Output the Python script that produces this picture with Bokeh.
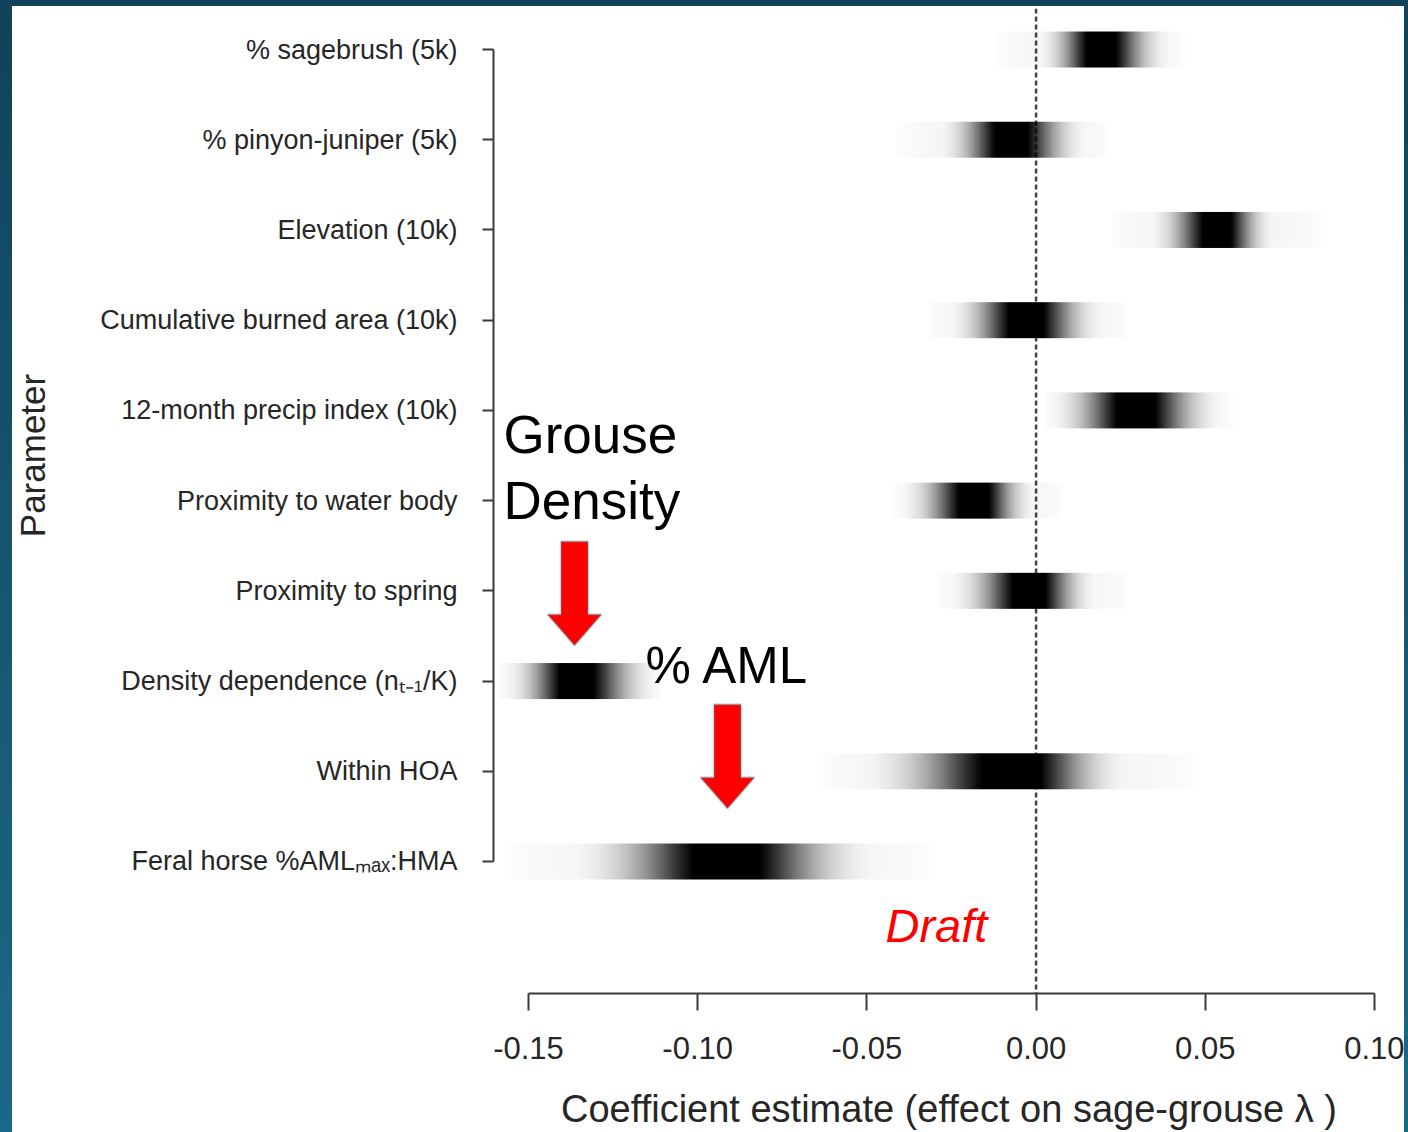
import numpy as np
from bokeh.plotting import figure
from bokeh.layouts import row
from bokeh.models import Range1d, FixedTicker, NumeralTickFormatter, Span, Label, PolyAnnotation
from bokeh.embed import file_html
from bokeh.resources import INLINE

# ---------------- data ----------------
params = ["% sagebrush (5k)", "% pinyon-juniper (5k)", "Elevation (10k)",
          "Cumulative burned area (10k)", "12-month precip index (10k)",
          "Proximity to water body", "Proximity to spring",
          "Density dependence (n\u209c\u208b\u2081/K)", "Within HOA",
          "Feral horse %AML\u2098\u2090\u2093:HMA"]
# posterior mode of each coefficient
modes = [0.0190, -0.0076, 0.0539, -0.0031, 0.0294, -0.0179, -0.0017, -0.1361, -0.0061, -0.0912]
# where the grey shading becomes visible (lower / upper)
shade_lo = [0.0028, -0.0262, 0.0359, -0.0232, 0.0072, -0.0371, -0.0223, -0.1544, -0.0460, -0.1317]
shade_hi = [0.0368, 0.0122, 0.0684, 0.0170, 0.0515, -0.0025, 0.0152, -0.1148, 0.0229, -0.0528]
# faint stippled tails (lower / upper)
tail_lo = [-0.0120, -0.0415, 0.0220, -0.0321, 0.0028, -0.0422, -0.0291, -0.1583, -0.0637, -0.1562]
tail_hi = [0.0442, 0.0211, 0.0850, 0.0270, 0.0583, 0.0081, 0.0270, -0.1110, 0.0477, -0.0303]
x_ticks = [-0.15, -0.10, -0.05, 0.00, 0.05, 0.10]
rows = list(range(len(params), 0, -1))   # top row = 10 ... bottom row = 1

# ---------------- geometry ----------------
WL = 50                      # narrow strip holding the y-axis title
W, H = 1392 - WL, 1126
FL, FT, FB = 481 - WL, 2, 139
x0, x1 = -0.16034, 0.10887
y0, y1 = -0.4631, 10.4546

AX = "#3a3a3a"
TXT = "#262626"
FONT = "Liberation Sans"

# ---------------- y-axis title strip ----------------
pl = figure(width=WL, height=H, x_range=Range1d(0, WL), y_range=Range1d(y0, y1),
            output_backend="svg", toolbar_location=None,
            x_axis_type=None, y_axis_type=None,
            min_border_left=0, min_border_right=0, min_border_top=FT, min_border_bottom=FB)
pl.outline_line_color = None
pl.xgrid.grid_line_color = None
pl.ygrid.grid_line_color = None
pl.background_fill_color = "white"
pl.border_fill_color = "white"
pl.styles = {"background-color": "white"}
pl.add_layout(Label(x=20, y=5.5, text="Parameter", text_font=FONT, text_font_size="35px",
                    text_color=TXT, angle=np.pi / 2, text_align="center", text_baseline="middle"))

# ---------------- main figure ----------------
p = figure(width=W, height=H, x_range=Range1d(x0, x1), y_range=Range1d(y0, y1),
           output_backend="svg", toolbar_location=None,
           min_border_left=FL, min_border_right=0, min_border_top=FT, min_border_bottom=FB)
p.outline_line_color = None
p.background_fill_color = "white"
p.border_fill_color = "white"
p.styles = {"background-color": "white"}
p.xgrid.grid_line_color = None
p.ygrid.grid_line_color = None

PX_X = (W - FL) / (x1 - x0)
PX_Y = (H - FB - FT) / (y1 - y0)

xa = p.xaxis[0]
xa.ticker = FixedTicker(ticks=x_ticks)
xa.bounds = (x_ticks[0], x_ticks[-1])
xa.formatter = NumeralTickFormatter(format="0.00")
xa.minor_tick_line_color = None
xa.major_tick_in = 0
xa.major_tick_out = 17
xa.axis_line_color = AX
xa.axis_line_width = 2
xa.major_tick_line_color = AX
xa.major_tick_line_width = 2
xa.major_label_text_font = FONT
xa.major_label_text_font_size = "31px"
xa.major_label_text_color = TXT
xa.major_label_standoff = 26
xa.axis_label = "Coefficient estimate (effect on sage-grouse \u03bb )"
xa.axis_label_text_font = FONT
xa.axis_label_text_font_size = "38px"
xa.axis_label_text_font_style = "normal"
xa.axis_label_text_color = TXT
xa.axis_label_standoff = 26

ya = p.yaxis[0]
ya.ticker = FixedTicker(ticks=rows)
ya.bounds = (1, len(params))
ya.major_label_overrides = {r: name for r, name in zip(rows, params)}
ya.minor_tick_line_color = None
ya.major_tick_in = 0
ya.major_tick_out = 11
ya.axis_line_color = AX
ya.axis_line_width = 2
ya.major_tick_line_color = AX
ya.major_tick_line_width = 2
ya.major_label_text_font = FONT
ya.major_label_text_font_size = "27px"
ya.major_label_text_color = TXT
ya.major_label_standoff = 25

# zero reference line
p.add_layout(Span(location=0, dimension="height", line_color="#444444",
                  line_width=2.5, line_dash="5 3", level="underlay"))

# ---------------- density strips ----------------
BAR_H = 36 / PX_Y
imgs, xs, ys, dws, dhs = [], [], [], [], []
for r, m, slo, shi, tlo, thi in zip(rows, modes, shade_lo, shade_hi, tail_lo, tail_hi):
    n = 600
    xv = np.linspace(tlo, thi, n)
    z = np.where(xv < m, (m - xv) / (m - slo), (xv - m) / (shi - m))
    d = np.minimum(1.0, 1.2 * np.exp(-0.5 * (2.4 * z) ** 2))
    # faint tail fading out towards its ends
    t = np.where(xv < m, (slo - xv) / (slo - tlo), (xv - shi) / (thi - shi))
    tail = 0.04 * np.sqrt(np.clip(1 - t, 0, 1))
    d = np.maximum(d, tail)
    img = np.zeros((1, n), dtype=np.uint32)
    view = img.view(dtype=np.uint8).reshape((1, n, 4))
    view[0, :, 3] = np.round(255 * d).astype(np.uint8)
    imgs.append(img)
    xs.append(tlo)
    ys.append(r - BAR_H / 2)
    dws.append(thi - tlo)
    dhs.append(BAR_H)
p.image_rgba(image=imgs, x=xs, y=ys, dw=dws, dh=dhs)

# ---------------- annotations ----------------
def arrow(tx, ty):
    shape = [(0, 0), (27, 31), (13.5, 31), (13.5, 104), (-13.5, 104), (-13.5, 31), (-27, 31)]
    return PolyAnnotation(xs=[tx + dx / PX_X for dx, dy in shape],
                          ys=[ty + dy / PX_Y for dx, dy in shape],
                          fill_color="#ff0000", fill_alpha=1.0,
                          line_color="#3f8c96", line_width=2.5)

p.add_layout(arrow(-0.1364, 3.394))
p.add_layout(arrow(-0.0912, 1.587))

for txt, x, y, size, color, style in [
    ("Grouse", -0.1574, 5.733, "53px", "black", "normal"),
    ("Density", -0.1574, 5.001, "53px", "black", "normal"),
    ("% AML", -0.1154, 3.167, "51px", "black", "normal"),
    ("Draft", -0.0445, 0.291, "47px", "#ff0000", "italic"),
]:
    p.add_layout(Label(x=x, y=y, text=txt, text_font=FONT, text_font_size=size,
                       text_color=color, text_font_style=style,
                       text_align="left", text_baseline="middle"))

layout = row(pl, p, spacing=0)
layout.styles = {"background-color": "white"}

html = file_html(layout, INLINE, title="Coefficient estimates")
style = ("<style>html,body{overflow:hidden !important;}"
         "body{margin:6px 0 0 12px !important;"
         "background:linear-gradient(#11425a,#1c6888) !important;}</style>")
html = html.replace("</head>", style + "</head>", 1)
open("out.html", "w").write(html)
